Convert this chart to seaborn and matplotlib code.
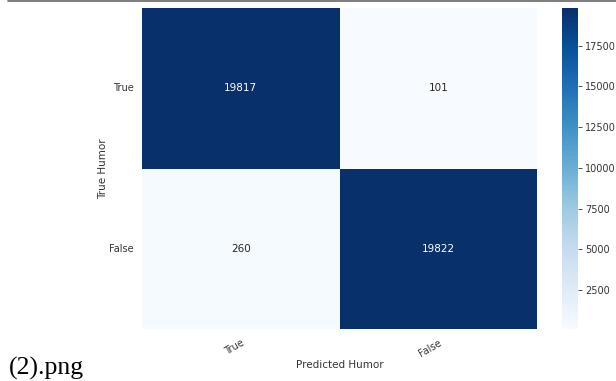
import matplotlib
matplotlib.use("Agg")
import matplotlib.pyplot as plt
from matplotlib.lines import Line2D
import numpy as np
import pandas as pd
import seaborn as sns

# Confusion matrix counts (rows: true label, columns: predicted label)
labels = ["True", "False"]
row_true = [19817, 101]
row_false = [260, 19822]

cm = pd.DataFrame([row_true, row_false], index=labels, columns=labels)

sns.set_theme(style="white")
plt.rcParams["font.family"] = ["DejaVu Sans"]

W, H = 616, 381
fig = plt.figure(figsize=(W / 100, H / 100), dpi=100)
ax = fig.add_axes([142 / W, 1 - 329 / H, 395 / W, 321 / H])
cax = fig.add_axes([562 / W, 1 - 329 / H, 16 / W, 321 / H])

sns.heatmap(cm, annot=True, fmt="d", cmap="Blues", ax=ax, cbar_ax=cax,
            annot_kws={"fontsize": 7.5})

ax.set_xlabel("Predicted Humor", fontsize=7.5, color="#333333", labelpad=1)
ax.set_ylabel("True Humor", fontsize=7.5, color="#333333", labelpad=1)
ax.tick_params(axis="both", length=0, labelsize=7, colors="#333333", pad=6)
plt.setp(ax.get_xticklabels(), rotation=30, ha="right", rotation_mode="anchor")
plt.setp(ax.get_yticklabels(), rotation=0)

cax.tick_params(labelsize=7, colors="#333333", length=3, width=0.6, pad=2)
for s in cax.spines.values():
    s.set_visible(False)

# page rule above the figure and the file caption below it
fig.add_artist(Line2D([8 / W, 1], [1 - 0.8 / H, 1 - 0.8 / H],
                      color="#666666", lw=1.2, transform=fig.transFigure))
fig.text(9 / W, 1 - 375 / H, "(2).png", family="Liberation Serif",
         fontsize=18.5, color="black", va="baseline", ha="left")

fig.savefig("out.png", dpi=100)
